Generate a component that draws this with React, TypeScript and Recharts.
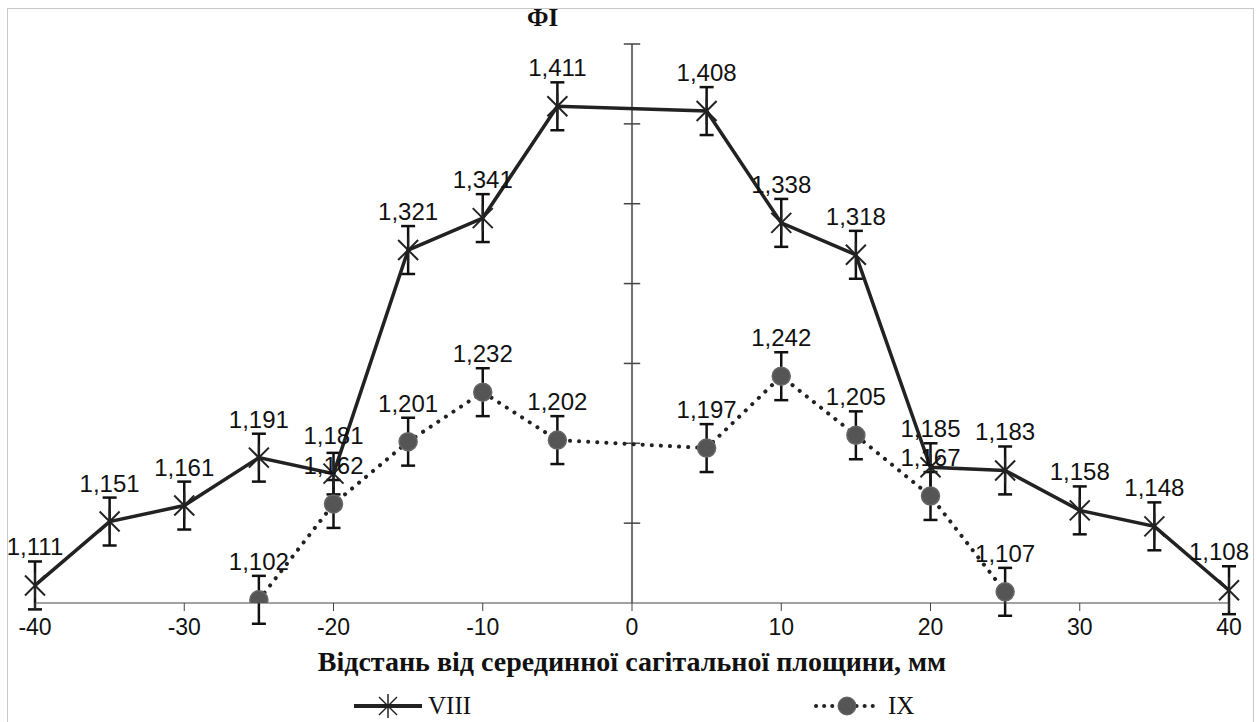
import { LineChart, Line, XAxis, YAxis, ErrorBar, LabelList, ReferenceLine } from 'recharts'

const viiiX = [-40, -35, -30, -25, -20, -15, -10, -5, 5, 10, 15, 20, 25, 30, 35, 40]
const viiiY = [1.111, 1.151, 1.161, 1.191, 1.181, 1.321, 1.341, 1.411, 1.408, 1.338, 1.318, 1.185, 1.183, 1.158, 1.148, 1.108]
const viiiErr = [0.015, 0.015, 0.015, 0.015, 0.013, 0.015, 0.015, 0.015, 0.015, 0.015, 0.015, 0.015, 0.015, 0.015, 0.015, 0.015]

const ixX = [-25, -20, -15, -10, -5, 5, 10, 15, 20, 25]
const ixY = [1.102, 1.162, 1.201, 1.232, 1.202, 1.197, 1.242, 1.205, 1.167, 1.107]
const ixErr = [0.015, 0.015, 0.015, 0.015, 0.015, 0.015, 0.015, 0.015, 0.015, 0.015]

const xTicks = [-40, -30, -20, -10, 0, 10, 20, 30, 40]
const yTicks = [1.15, 1.2, 1.25, 1.3, 1.35, 1.4, 1.45]

const viiiData = viiiX.map((x, i) => ({ x, y: viiiY[i], err: viiiErr[i] }))
const ixData = ixX.map((x, i) => ({ x, y: ixY[i], err: ixErr[i] }))

const fmt = (v: any) => Number(v).toFixed(3).replace('.', ',')

const StarDot = (props: any) => {
  const { cx, cy } = props
  if (cx == null || cy == null) return null
  return (
    <g stroke="#222" strokeWidth={2}>
      <line x1={cx - 10} y1={cy - 10} x2={cx + 10} y2={cy + 10} />
      <line x1={cx - 10} y1={cy + 10} x2={cx + 10} y2={cy - 10} />
      <line x1={cx} y1={cy - 13} x2={cx} y2={cy + 13} />
    </g>
  )
}

const CircleDot = (props: any) => {
  const { cx, cy } = props
  if (cx == null || cy == null) return null
  return <circle cx={cx} cy={cy} r={9} fill="#555" stroke="#666" strokeWidth={1.5} />
}

const serif = '"Liberation Serif", "Times New Roman", serif'
const sans = '"Liberation Sans", Arial, sans-serif'

// value label above the point, kept inside the frame at the right edge
const ValueLabel = (props: any) => {
  const { x, y, value } = props
  if (x == null || y == null) return null
  const cx = Math.min(x, 1219)
  return (
    <text x={cx} y={y - 30} textAnchor="middle" fontSize={24} fill="#111" fontFamily={sans}>
      {fmt(value)}
    </text>
  )
}

export default function App() {
  return (
    <div style={{ position: 'absolute', left: 0, top: 0, width: 1257, height: 722, background: '#fff', overflow: 'hidden' }}>
      <div style={{ position: 'absolute', left: 7, top: 8, width: 1245, height: 730, border: '1.5px solid #c8c8c8' }} />
      <LineChart width={1257} height={722} margin={{ top: 44, right: 28, left: 35, bottom: 89 }}>
        <XAxis
          type="number"
          dataKey="x"
          domain={[-40, 40]}
          ticks={xTicks}
          allowDuplicatedCategory={false}
          stroke="#444"
          tickSize={8}
          tickMargin={8}
          tick={{ fontSize: 23, fill: '#111', fontFamily: sans }}
          height={30}
          label={{ value: 'Відстань від серединної сагітальної площини, мм', position: 'bottom', offset: 18, style: { fontSize: 28, fontWeight: 'bold', fontFamily: serif, fill: '#111' } }}
        />
        <YAxis type="number" domain={[1.1, 1.45]} allowDataOverflow hide />
        <ReferenceLine x={0} stroke="#444" strokeWidth={1.5} />
        {yTicks.map((t) => (
          <ReferenceLine key={t} segment={[{ x: -0.55, y: t }, { x: 0.55, y: t }]} stroke="#444" strokeWidth={1.5} />
        ))}
        <Line
          data={viiiData}
          dataKey="y"
          stroke="#222"
          strokeWidth={3.5}
          dot={<StarDot r={14} strokeWidth={2} />}
          activeDot={false}
          isAnimationActive={false}
        >
          <ErrorBar dataKey="err" direction="y" width={7} stroke="#111" strokeWidth={2.5} />
          <LabelList dataKey="y" content={<ValueLabel />} />
        </Line>
        <Line
          data={ixData}
          dataKey="y"
          stroke="#222"
          strokeWidth={4}
          strokeDasharray="0.1 9"
          strokeLinecap="round"
          dot={<CircleDot r={11} strokeWidth={2} />}
          activeDot={false}
          isAnimationActive={false}
        >
          <ErrorBar dataKey="err" direction="y" width={7} stroke="#111" strokeWidth={2.5} />
          <LabelList dataKey="y" content={<ValueLabel />} />
        </Line>
      </LineChart>
      <div style={{ position: 'absolute', left: 527, top: 4, fontFamily: serif, fontWeight: 'bold', fontSize: 25, color: '#111' }}>ФІ</div>
      <div style={{ position: 'absolute', left: 352, top: 693, display: 'flex', alignItems: 'center', fontFamily: serif, fontSize: 25, lineHeight: '26px', color: '#111' }}>
        <svg width={72} height={26}>
          <line x1={2} y1={13} x2={70} y2={13} stroke="#222" strokeWidth={4} />
          <g stroke="#222" strokeWidth={1.5}>
            <line x1={27} y1={4} x2={45} y2={22} />
            <line x1={27} y1={22} x2={45} y2={4} />
            <line x1={36} y1={1} x2={36} y2={25} />
          </g>
        </svg>
        <span style={{ marginLeft: 4 }}>VIII</span>
      </div>
      <div style={{ position: 'absolute', left: 812, top: 693, display: 'flex', alignItems: 'center', fontFamily: serif, fontSize: 25, lineHeight: '26px', color: '#111' }}>
        <svg width={70} height={26}>
          <line x1={4} y1={13} x2={66} y2={13} stroke="#222" strokeWidth={4} strokeDasharray="0.1 8" strokeLinecap="round" />
          <circle cx={35} cy={13} r={9} fill="#555" stroke="#666" />
        </svg>
        <span style={{ marginLeft: 6 }}>IX</span>
      </div>
    </div>
  )
}
